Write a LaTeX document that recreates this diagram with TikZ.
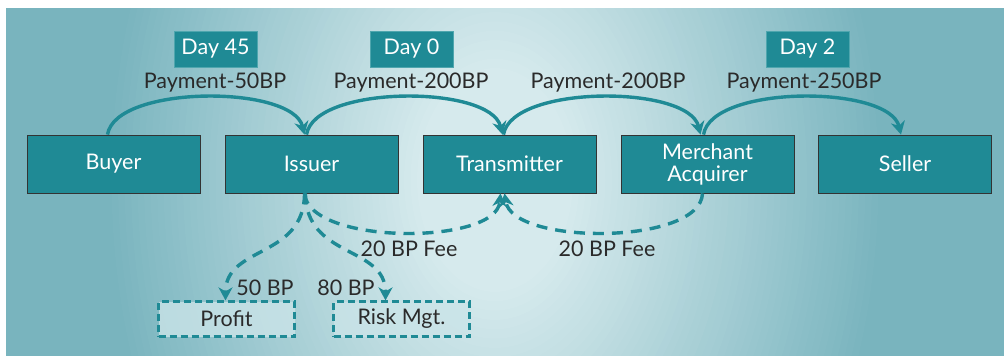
\documentclass[tikz,border=0pt]{standalone}
\usepackage{fontspec}
\setmainfont{Lato}
\usetikzlibrary{arrows.meta}

\definecolor{teal}{HTML}{1F8A95}
\definecolor{bgin}{HTML}{D6EAED}
\definecolor{bgout}{HTML}{79B4BE}
\definecolor{txt}{HTML}{2A2A2A}
\definecolor{dayedge}{HTML}{4FA6AE}
\definecolor{softfill}{HTML}{CAE4E8}

\tikzset{
  party/.style={draw=black!80, line width=0.8pt, fill=teal, text=white,
    minimum width=173pt, minimum height=58pt, inner sep=0pt,
    align=center, font=\fontsize{21.5}{22}\selectfont},
  daybox/.style={draw=dayedge, line width=0.8pt, fill=teal, text=white,
    minimum width=83pt, minimum height=36pt, inner sep=0pt,
    font=\fontsize{21.5}{23}\selectfont},
  pool/.style={draw=teal, line width=2.2pt, dash pattern=on 7pt off 4pt,
    fill=softfill, fill opacity=0.8, text opacity=1, text=txt,
    minimum width=136pt, minimum height=35pt, inner sep=0pt,
    font=\fontsize{21.5}{23}\selectfont},
  tag/.style={text=txt, inner sep=0pt, font=\fontsize{21.5}{23}\selectfont},
  flow/.style={draw=teal, line width=3.4pt,
    -{Stealth[length=13pt,width=14pt,inset=4pt]}},
  fee/.style={flow, dash pattern=on 11pt off 8pt},
}

\begin{document}
\begin{tikzpicture}[x=1pt, y=-1pt]
  \useasboundingbox (0,0) rectangle (1004,356);

  % backdrop: a soft central glow built from nested ellipses
  \begin{scope}
    \clip (6,8) rectangle (1004,356);
    \fill[bgout] (6,8) rectangle (1004,356);
    \foreach \i in {0,...,59}{
      \pgfmathsetmacro\f{1-\i/60}
      \pgfmathsetmacro\p{min(100,(1-\f)/0.8*100)}
      \fill[bgin!\p!bgout] (495,180) ellipse ({390*\f} and {560*\f});
    }
  \end{scope}

  % parties along the payment chain
  \node[party] (buyer)  at (113.5,164) {Buyer};
  \node[party] (issuer) at (311.5,164) {Issuer};
  \node[party] (trans)  at (509.5,164) {Transmitter};
  \node[party] (merch)  at (707.5,164) {Merchant\\Acquirer};
  \node[party] (seller) at (905,164)   {Seller};

  % settlement days
  \node[daybox] (d45) at (215.5,49) {Day 45};
  \node[daybox] (d0)  at (411.5,49) {Day 0};
  \node[daybox] (d2)  at (807.5,49) {Day 2};

  % payment amounts
  \node[tag] (p1) at (215,83) {Payment-50BP};
  \node[tag] (p2) at (411,83) {Payment-200BP};
  \node[tag] (p3) at (608,83) {Payment-200BP};
  \node[tag] (p4) at (804,83) {Payment-250BP};

  % payment arcs
  \draw[flow] ([xshift=-6pt]buyer.north)  .. controls +(8,-50) and +(-12,-50) .. ([xshift=-7pt]issuer.north);
  \draw[flow] ([xshift=-5pt]issuer.north) .. controls +(8,-50) and +(-12,-50) .. ([xshift=-7pt]trans.north);
  \draw[flow] ([xshift=-6pt]trans.north)  .. controls +(8,-50) and +(-12,-50) .. ([xshift=-7pt]merch.north);
  \draw[flow] ([xshift=-4pt]merch.north)  .. controls +(8,-50) and +(-12,-50) .. ([xshift=-4pt]seller.north);

  % fee arcs below
  \draw[fee] ([xshift=-7pt]issuer.south) .. controls +(4,52) and +(-4,52) .. ([xshift=-9pt]trans.south);
  \draw[fee] ([xshift=-5pt]merch.south)  .. controls +(-2,52) and +(8,52) .. ([xshift=-5pt]trans.south);
  \node[tag] (f1) at (409,249) {20 BP Fee};
  \node[tag] (f2) at (607,249) {20 BP Fee};

  % issuer's share split
  \node[pool] (profit) at (226.5,319) {Profit};
  \node[pool] (risk)   at (401.5,319) {Risk Mgt.};
  \draw[fee] ([xshift=-7pt]issuer.south) .. controls +(0,65) and +(0,-55) .. ([xshift=-1pt]profit.north);
  \draw[fee] ([xshift=-6pt]issuer.south) .. controls +(0,65) and +(0,-55) .. ([xshift=-16pt]risk.north);
  \node[tag] (b50) at (265,288) {50 BP};
  \node[tag] (b80) at (346,288) {80 BP};
\end{tikzpicture}
\end{document}
